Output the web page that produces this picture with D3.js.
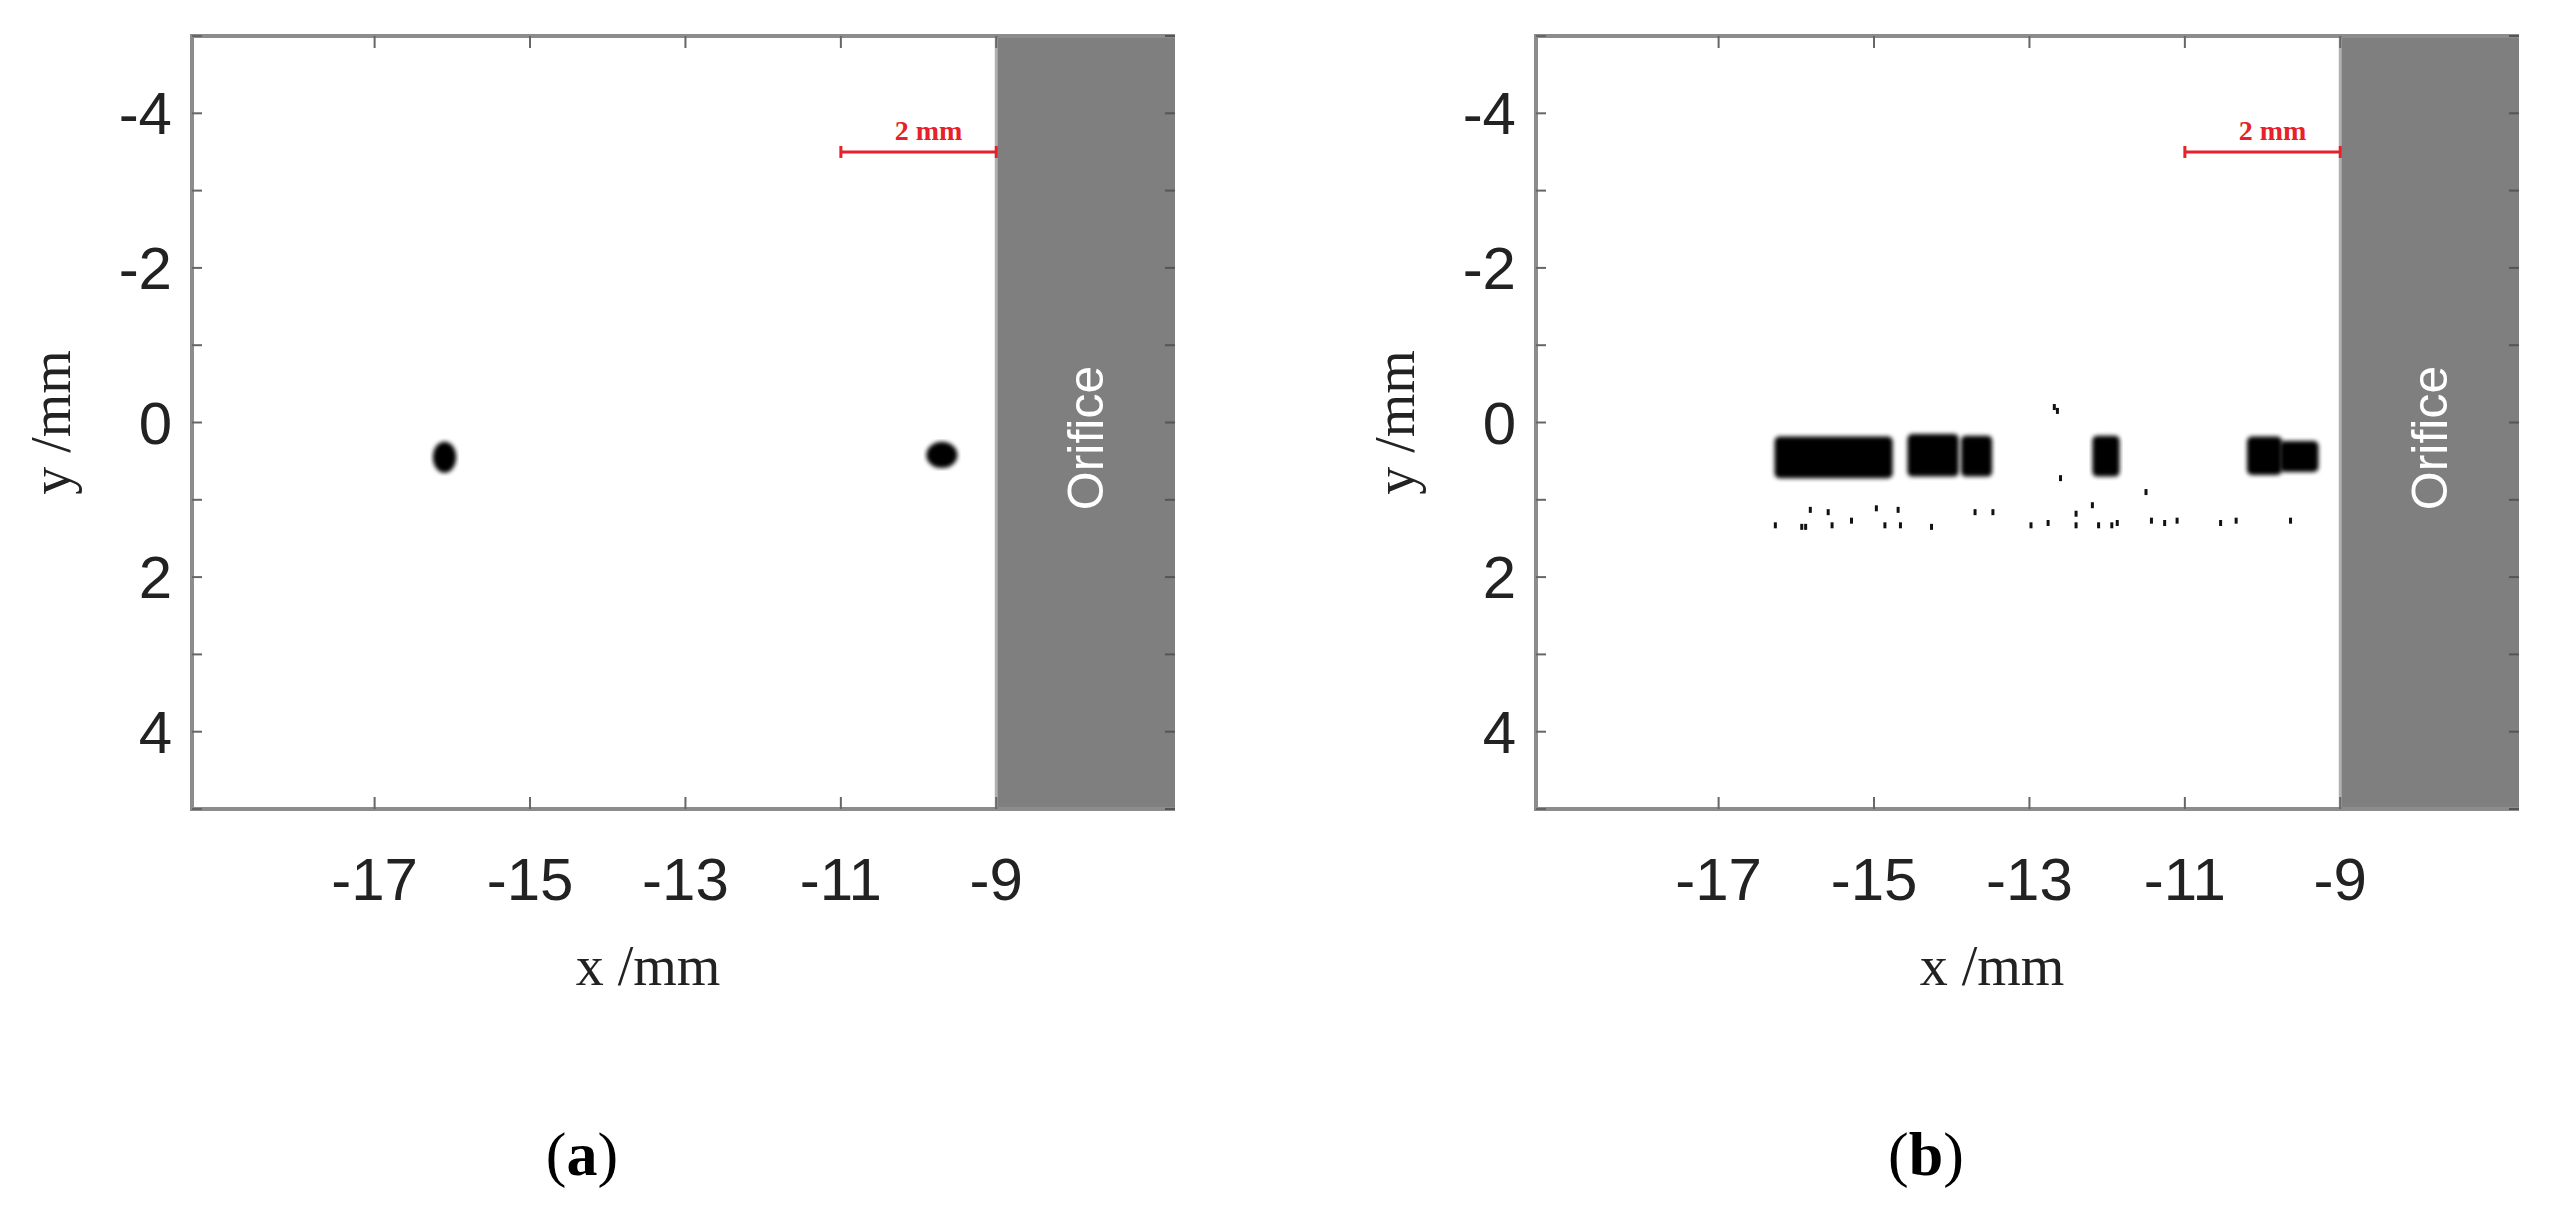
<!DOCTYPE html>
<html>
<head>
<meta charset="utf-8">
<script src="https://cdn.jsdelivr.net/npm/d3@7"></script>
<style>
  body { margin: 0; background: #fff; }
  svg { display: block; }
</style>
</head>
<body>
<svg id="chart" width="2551" height="1210"></svg>
<script>
const X_TICKS = [-17, -15, -13, -11, -9];
const Y_TICKS = [-4, -2, 0, 2, 4];
const Y_MINOR = [-5, -4, -3, -2, -1, 0, 1, 2, 3, 4, 5];
const X_DOMAIN = [-19.35, -6.7];
const Y_DOMAIN = [-5, 5];
const ORIFICE_X = -9;
const SCALE_BAR = [-11, -9];
const SCALE_BAR_Y = -3.5;

// panel (a): two droplets [x, y, rx(mm), ry(mm)]
const dropsA = [
  [-16.1, 0.45, 0.15, 0.2],
  [-9.7, 0.42, 0.2, 0.17]
];

// panel (b): droplet trains [x0, x1, y0, y1]
const clustersB = [
  [-16.28, -14.76, 0.18, 0.72],
  [-14.57, -13.91, 0.15, 0.7],
  [-13.88, -13.48, 0.17, 0.7],
  [-12.19, -11.84, 0.17, 0.7],
  [-10.2, -9.75, 0.18, 0.68],
  [-9.78, -9.28, 0.24, 0.64]
];
// small satellite drops [x, y]
const dotsB = [
  [-16.27, 1.33], [-15.93, 1.35], [-15.88, 1.35], [-15.54, 1.33], [-15.29, 1.27],
  [-14.86, 1.33], [-14.66, 1.33], [-14.26, 1.35], [-12.98, 1.33], [-12.76, 1.3],
  [-12.4, 1.33], [-12.11, 1.33], [-11.94, 1.33], [-11.87, 1.3], [-11.43, 1.27],
  [-11.26, 1.3], [-11.1, 1.27], [-10.54, 1.3], [-10.34, 1.27], [-9.64, 1.27],
  [-15.82, 1.13], [-15.59, 1.16], [-14.97, 1.11], [-14.69, 1.13], [-13.7, 1.16],
  [-13.47, 1.16], [-12.4, 1.18], [-12.19, 1.07],
  [-12.68, -0.2], [-12.64, -0.15], [-12.6, 0.72], [-11.5, 0.9]
];

const svg = d3.select('#chart');
const defs = svg.append('defs');
defs.append('filter').attr('id', 'fuzz')
  .append('feGaussianBlur').attr('stdDeviation', 2);

function drawPanel(left, label, drawData) {
  const top = 36, bottom = 809, right = left + 983;
  const x = d3.scaleLinear().domain(X_DOMAIN).range([left, right]);
  const y = d3.scaleLinear().domain(Y_DOMAIN).range([top, bottom]);
  const g = svg.append('g');

  // orifice
  g.append('rect')
    .attr('x', x(ORIFICE_X)).attr('y', top)
    .attr('width', right - x(ORIFICE_X)).attr('height', bottom - top)
    .attr('fill', '#7f7f7f');
  g.append('line')
    .attr('x1', x(ORIFICE_X)).attr('x2', x(ORIFICE_X))
    .attr('y1', top).attr('y2', bottom)
    .attr('stroke', '#b0b0b0').attr('stroke-width', 3);
  g.append('text')
    .attr('transform', `translate(${(x(ORIFICE_X) + right) / 2 + 17},${y(0.2)}) rotate(-90)`)
    .attr('text-anchor', 'middle')
    .attr('font-family', 'Liberation Sans, Arial, sans-serif')
    .attr('font-size', 50).attr('fill', '#fff')
    .text('Orifice');

  // frame
  g.append('path')
    .attr('d', `M${right},${top}H${left}V${bottom}H${right}`)
    .attr('fill', 'none').attr('stroke', '#8c8c8c').attr('stroke-width', 4);

  // ticks (inward)
  X_TICKS.forEach(t => {
    g.append('line').attr('x1', x(t)).attr('x2', x(t)).attr('y1', bottom).attr('y2', bottom - 12)
      .attr('stroke', '#666').attr('stroke-width', 2);
    g.append('line').attr('x1', x(t)).attr('x2', x(t)).attr('y1', top).attr('y2', top + 12)
      .attr('stroke', '#666').attr('stroke-width', 2);
  });
  Y_MINOR.forEach(t => {
    g.append('line').attr('x1', left).attr('x2', left + 10).attr('y1', y(t)).attr('y2', y(t))
      .attr('stroke', '#666').attr('stroke-width', 2);
    g.append('line').attr('x1', right).attr('x2', right - 10).attr('y1', y(t)).attr('y2', y(t))
      .attr('stroke', '#555').attr('stroke-width', 2);
  });

  // tick labels
  g.selectAll('.xl').data(X_TICKS).enter().append('text')
    .attr('x', d => x(d)).attr('y', 900)
    .attr('text-anchor', 'middle')
    .attr('font-family', 'Liberation Sans, Arial, sans-serif')
    .attr('font-size', 60).attr('fill', '#222')
    .text(d => d);
  g.selectAll('.yl').data(Y_TICKS).enter().append('text')
    .attr('x', left - 20).attr('y', d => y(d) + 21)
    .attr('text-anchor', 'end')
    .attr('font-family', 'Liberation Sans, Arial, sans-serif')
    .attr('font-size', 60).attr('fill', '#222')
    .text(d => d);

  // axis titles
  g.append('text')
    .attr('x', left + 456).attr('y', 985)
    .attr('text-anchor', 'middle')
    .attr('font-family', 'Liberation Serif, Times New Roman, serif')
    .attr('font-size', 56).attr('fill', '#222')
    .text('x /mm');
  g.append('text')
    .attr('transform', `translate(${left - 122},${y(0)}) rotate(-90)`)
    .attr('text-anchor', 'middle')
    .attr('font-family', 'Liberation Serif, Times New Roman, serif')
    .attr('font-size', 56).attr('fill', '#222')
    .text('y /mm');

  // scale bar
  const sb = g.append('g').attr('stroke', '#e8202a').attr('stroke-width', 3);
  sb.append('line').attr('x1', x(SCALE_BAR[0])).attr('x2', x(SCALE_BAR[1]))
    .attr('y1', y(SCALE_BAR_Y)).attr('y2', y(SCALE_BAR_Y));
  SCALE_BAR.forEach(t => sb.append('line').attr('x1', x(t)).attr('x2', x(t))
    .attr('y1', y(SCALE_BAR_Y) - 6).attr('y2', y(SCALE_BAR_Y) + 6));
  g.append('text')
    .attr('x', (x(SCALE_BAR[0]) + x(SCALE_BAR[1])) / 2 + 10).attr('y', y(SCALE_BAR_Y) - 12)
    .attr('text-anchor', 'middle')
    .attr('font-family', 'Liberation Serif, Times New Roman, serif')
    .attr('font-weight', 'bold')
    .attr('font-size', 28).attr('fill', '#e8202a')
    .text('2 mm');

  // panel label
  const lab = g.append('text')
    .attr('x', left + 390).attr('y', 1175)
    .attr('text-anchor', 'middle')
    .attr('font-family', 'Liberation Serif, Times New Roman, serif')
    .attr('font-size', 62).attr('fill', '#000');
  lab.append('tspan').text('(');
  lab.append('tspan').attr('font-weight', 'bold').text(label);
  lab.append('tspan').text(')');

  drawData(g, x, y);
}

drawPanel(192, 'a', (g, x, y) => {
  g.selectAll('.drop').data(dropsA).enter().append('ellipse')
    .attr('cx', d => x(d[0])).attr('cy', d => y(d[1]))
    .attr('rx', d => x(d[0] + d[2]) - x(d[0]))
    .attr('ry', d => y(d[1] + d[3]) - y(d[1]))
    .attr('fill', '#000').attr('filter', 'url(#fuzz)');
});

drawPanel(1536, 'b', (g, x, y) => {
  g.selectAll('.cl').data(clustersB).enter().append('rect')
    .attr('x', d => x(d[0])).attr('y', d => y(d[2]))
    .attr('width', d => x(d[1]) - x(d[0]))
    .attr('height', d => y(d[3]) - y(d[2]))
    .attr('rx', 5)
    .attr('fill', '#000').attr('filter', 'url(#fuzz)');
  g.selectAll('.dot').data(dotsB).enter().append('rect')
    .attr('x', d => x(d[0]) - 1.5).attr('y', d => y(d[1]) - 3)
    .attr('width', 3).attr('height', 6)
    .attr('fill', '#111');
});
</script>
</body>
</html>
